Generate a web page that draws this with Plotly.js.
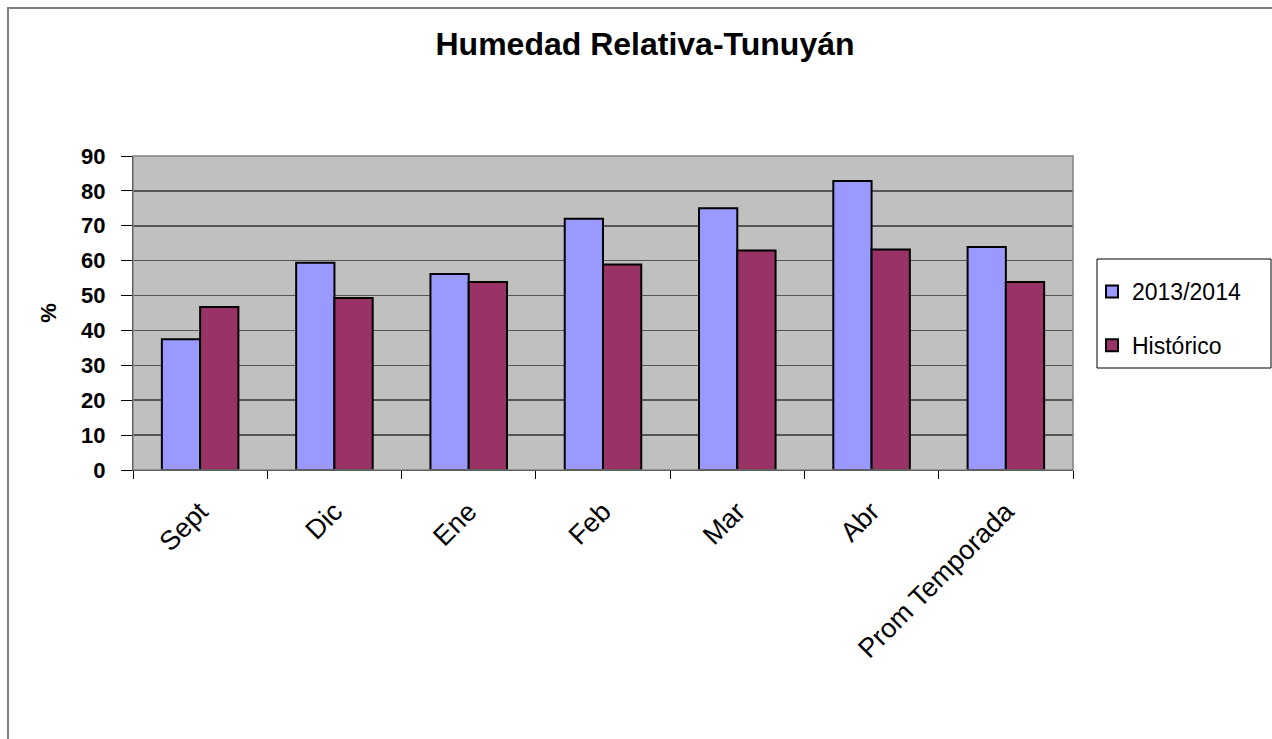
<!DOCTYPE html>
<html>
<head>
<meta charset="utf-8">
<script src="https://cdn.plot.ly/plotly-3.0.1.min.js"></script>
<style>html,body{margin:0;padding:0;background:#fff;}#chart{width:1272px;height:739px;}</style>
</head>
<body>
<div id="chart"></div>
<script>
const categories = ["Sept", "Dic", "Ene", "Feb", "Mar", "Abr", "Prom Temporada"];
const serie2013 = [37.5, 59.4, 56.2, 72.0, 75.0, 82.8, 63.9];
const serieHistorico = [46.7, 49.3, 53.9, 58.9, 62.9, 63.2, 53.9];
const seriesNames = ["2013/2014", "Histórico"];
const yTicks = [0, 10, 20, 30, 40, 50, 60, 70, 80, 90];

const L = 133, R = 1073, T = 156, B = 470, W = 1272, H = 739;
const pw = R - L, ph = B - T;
const px = x => (x - L) / pw;
const py = y => (B - y) / ph;

const traces = [
  {type: "bar", name: seriesNames[0], x: categories, y: serie2013, legendgroup: "a",
   marker: {color: "#9999FF", line: {color: "#000", width: 2}}, hoverinfo: "y"},
  {type: "bar", name: seriesNames[1], x: categories, y: serieHistorico, legendgroup: "b",
   marker: {color: "#993366", line: {color: "#000", width: 2}}, hoverinfo: "y"}
];

const layout = {
  width: W, height: H,
  margin: {l: L, r: W - R, t: T, b: H - B, pad: 0},
  paper_bgcolor: "#ffffff",
  plot_bgcolor: "#C0C0C0",
  font: {family: "Liberation Sans, Arial, sans-serif", color: "#000"},
  title: {text: "<b>Humedad Relativa-Tunuyán</b>", font: {size: 32, color: "#000"},
          x: 645 / W, xref: "container", xanchor: "center", y: 1 - 44 / H, yanchor: "middle"},
  barmode: "group",
  bargap: 0.43,
  bargroupgap: 0,
  showlegend: true,
  legend: {x: px(1092), y: py(270), xanchor: "left", yanchor: "top",
           bgcolor: "rgba(0,0,0,0)", borderwidth: 0,
           font: {size: 23, color: "#000"}, traceorder: "grouped", tracegroupgap: 21,
           itemwidth: 30},
  xaxis: {type: "category", tickangle: -45, tickfont: {size: 27, color: "#000"},
          ticks: "outside", ticklen: 8, tickcolor: "#000", tickson: "boundaries",
          ticklabelstandoff: 14,
          showline: true, linecolor: "#000", linewidth: 1, mirror: false,
          showgrid: false, zeroline: false, fixedrange: true},
  yaxis: {range: [0, 90], tickvals: yTicks, ticktext: yTicks.map(v => "<b>" + v + "</b>"),
          tickfont: {size: 22, color: "#000"}, ticks: "outside", ticklen: 11, tickcolor: "#000",
          ticklabelstandoff: 11,
          showline: true, linecolor: "#000", linewidth: 1,
          showgrid: true, gridcolor: "#555555", gridwidth: 1.5, zeroline: false,
          title: {text: "<b>%</b>", font: {size: 22, color: "#000"}, standoff: 18},
          fixedrange: true},
  shapes: [
    {type: "rect", xref: "paper", yref: "paper", x0: 0, x1: 1, y0: 0, y1: 1,
     line: {color: "#808080", width: 1.5}, fillcolor: "rgba(0,0,0,0)", layer: "above"},
    {type: "rect", xref: "paper", yref: "paper", x0: px(8), x1: px(1300), y0: py(8), y1: py(800),
     line: {color: "#808080", width: 2}, fillcolor: "rgba(0,0,0,0)"},
    {type: "rect", xref: "paper", yref: "paper", x0: px(1097), x1: px(1271), y0: py(368), y1: py(259),
     line: {color: "#000", width: 1}, fillcolor: "#ffffff", layer: "below"}
  ]
};

Plotly.newPlot("chart", traces, layout, {displayModeBar: false, staticPlot: true});
</script>
</body>
</html>
